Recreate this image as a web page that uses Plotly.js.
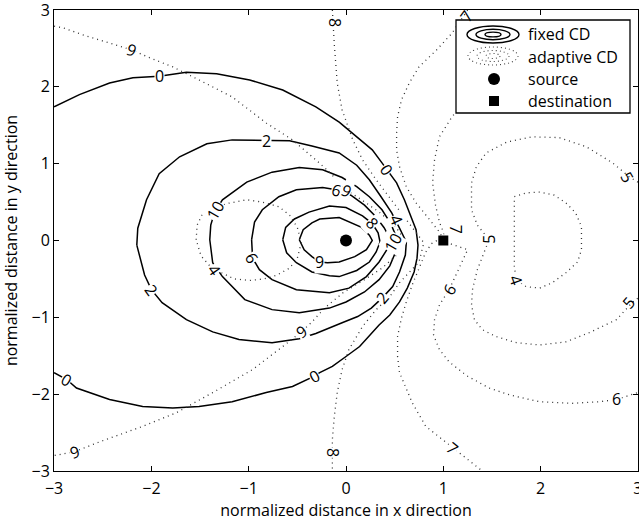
<!DOCTYPE html>
<html><head><meta charset="utf-8">
<script src="https://cdn.plot.ly/plotly-3.0.1.min.js"></script>
<style>html,body{margin:0;padding:0;background:#fff}</style>
</head><body><div id="chart" style="width:639px;height:521px"></div>
<script>
// ---- fixed CD contour lines (solid) ----
const fixed0X = [-3.00,-2.74,-2.43,-2.19,-1.92,-1.64,-1.33,-0.99,-0.65,-0.31,-0.07,0.14,0.27,0.37,0.42,0.52,0.60,0.67,0.72,0.74,0.73,0.70,0.63,0.55,0.45,0.34,0.27,0.14,0.00,-0.14,-0.27,-0.33,-0.55,-0.82,-1.17,-1.51,-1.78,-2.09,-2.43,-2.77,-2.87,-3.00];
const fixed0Y = [1.74,1.90,2.05,2.12,2.14,2.19,2.17,2.09,1.96,1.74,1.54,1.32,1.18,1.01,0.92,0.75,0.53,0.31,0.14,-0.06,-0.23,-0.41,-0.62,-0.80,-0.97,-1.10,-1.20,-1.38,-1.51,-1.64,-1.72,-1.77,-1.90,-1.98,-2.10,-2.16,-2.18,-2.16,-2.07,-1.92,-1.81,-1.72];
const fixed2X = [-2.15,-2.14,-2.05,-1.92,-1.71,-1.43,-1.17,-0.82,-0.58,-0.35,-0.07,0.11,0.24,0.36,0.47,0.55,0.62,0.61,0.55,0.48,0.37,0.26,0.12,-0.04,-0.17,-0.31,-0.48,-0.76,-1.10,-1.37,-1.64,-1.89,-2.00,-2.07,-2.15];
const fixed2Y = [-0.06,0.16,0.53,0.87,1.09,1.26,1.31,1.30,1.30,1.23,1.14,0.98,0.79,0.57,0.36,0.16,-0.02,-0.19,-0.41,-0.60,-0.75,-0.88,-0.99,-1.07,-1.14,-1.21,-1.28,-1.33,-1.29,-1.19,-1.03,-0.81,-0.64,-0.45,-0.06];
const fixed4X = [-1.40,-1.39,-1.35,-1.27,-1.02,-0.76,-0.48,-0.24,-0.04,0.11,0.24,0.37,0.46,0.53,0.51,0.45,0.34,0.19,0.00,-0.17,-0.48,-0.76,-1.04,-1.27,-1.37,-1.40];
const fixed4Y = [0.01,0.20,0.37,0.53,0.76,0.89,0.95,0.92,0.82,0.70,0.57,0.40,0.22,0.01,-0.15,-0.33,-0.51,-0.67,-0.80,-0.88,-0.94,-0.90,-0.77,-0.47,-0.29,0.01];
const fixed6X = [-0.97,-0.94,-0.86,-0.69,-0.51,-0.24,-0.10,0.05,0.19,0.30,0.39,0.46,0.42,0.34,0.21,0.03,-0.17,-0.51,-0.76,-0.89,-0.96,-0.97];
const fixed6Y = [0.01,0.24,0.40,0.57,0.66,0.69,0.66,0.59,0.46,0.32,0.17,0.01,-0.12,-0.28,-0.47,-0.62,-0.68,-0.64,-0.51,-0.38,-0.23,0.01];
const fixed8X = [-0.65,-0.62,-0.53,-0.38,-0.17,0.00,0.17,0.27,0.33,0.35,0.31,0.24,0.11,-0.07,-0.17,-0.35,-0.51,-0.61,-0.65];
const fixed8Y = [0.01,0.17,0.28,0.37,0.45,0.43,0.32,0.22,0.10,-0.02,-0.15,-0.28,-0.39,-0.47,-0.46,-0.41,-0.29,-0.16,0.01];
const fixed9X = [-0.48,-0.44,-0.35,-0.27,-0.07,0.03,0.16,0.24,0.27,0.21,0.09,-0.07,-0.19,-0.27,-0.35,-0.43,-0.48];
const fixed9Y = [0.01,0.14,0.23,0.28,0.30,0.24,0.17,0.07,0.00,-0.12,-0.21,-0.28,-0.29,-0.28,-0.21,-0.12,0.01];

// ---- adaptive CD contour lines (dotted) ----
const adapt10X = [-1.54,-1.53,-1.48,-1.35,-1.23,-1.02,-0.86,-0.69,-0.58,-0.50,-0.46,-0.50,-0.58,-0.71,-0.84,-0.99,-1.15,-1.28,-1.40,-1.49,-1.54];
const adapt10Y = [0.01,0.20,0.33,0.40,0.48,0.53,0.50,0.44,0.33,0.17,-0.03,-0.23,-0.36,-0.45,-0.50,-0.52,-0.50,-0.42,-0.33,-0.20,0.01];
const adapt9X = [-3.00,-2.91,-2.71,-2.43,-2.20,-2.02,-1.78,-1.51,-1.17,-0.82,-0.55,-0.31,-0.17,0.00,0.16,0.34,0.50,0.60,0.52,0.37,0.19,-0.02,-0.22,-0.35,-0.46,-0.65,-0.96,-1.37,-1.74,-2.09,-2.53,-2.79,-3.00];
const adapt9Y = [2.79,2.77,2.68,2.57,2.48,2.38,2.26,2.09,1.87,1.53,1.31,1.05,0.89,0.66,0.53,0.37,0.20,0.01,-0.19,-0.36,-0.51,-0.67,-0.88,-1.06,-1.19,-1.38,-1.68,-1.98,-2.24,-2.42,-2.62,-2.75,-2.80];
const adapt8X = [-0.14,-0.12,-0.09,-0.04,0.07,0.17,0.31,0.45,0.57,0.68,0.80,0.75,0.65,0.55,0.45,0.31,0.17,0.03,-0.04,-0.09,-0.12,-0.14,-0.14];
const adapt8Y = [3.00,2.55,2.05,1.70,1.31,1.05,0.79,0.56,0.36,0.17,-0.03,-0.28,-0.42,-0.55,-0.73,-0.90,-1.12,-1.42,-1.68,-1.98,-2.29,-2.59,-3.00];
const adapt7X = [1.25,1.09,0.93,0.75,0.65,0.57,0.53,0.52,0.52,0.55,0.62,0.72,0.86,0.96,0.99,0.88,0.82,0.75,0.68,0.62,0.57,0.53,0.53,0.55,0.62,0.68,0.82,0.99,1.09,1.24,1.40];
const adapt7Y = [3.00,2.70,2.48,2.26,2.05,1.83,1.61,1.40,1.18,0.96,0.70,0.49,0.27,0.11,0.04,-0.04,-0.15,-0.36,-0.58,-0.80,-1.01,-1.25,-1.51,-1.72,-1.94,-2.11,-2.42,-2.59,-2.70,-2.85,-3.00];
const adapt6X = [2.60,1.99,1.57,1.27,1.09,0.96,0.91,0.89,0.92,0.96,1.02,1.02,1.25,1.16,1.06,0.96,0.91,0.90,0.96,1.06,1.24,1.47,1.68,1.99,2.32,2.60,2.78,3.00];
const adapt6Y = [2.77,2.58,2.29,1.90,1.61,1.35,1.05,0.75,0.46,0.24,0.05,-0.02,-0.12,-0.36,-0.64,-0.84,-1.03,-1.23,-1.42,-1.58,-1.76,-1.92,-2.01,-2.10,-2.12,-2.10,-2.07,-1.98];
const adapt5X = [3.00,2.91,2.74,2.47,2.19,1.91,1.65,1.44,1.34,1.29,1.29,1.35,1.47,1.42,1.35,1.30,1.29,1.32,1.40,1.54,1.75,1.99,2.26,2.50,2.78,2.94,3.00];
const adapt5Y = [0.76,0.83,1.01,1.22,1.34,1.35,1.28,1.14,0.96,0.75,0.40,0.20,0.01,-0.16,-0.38,-0.64,-0.84,-1.03,-1.16,-1.25,-1.33,-1.36,-1.32,-1.20,-1.03,-0.81,-0.75];
const adapt4X = [1.73,1.85,1.99,2.14,2.26,2.36,2.42,2.42,2.38,2.26,2.12,1.99,1.85,1.75,1.73,1.73,1.73,1.73];
const adapt4Y = [0.57,0.62,0.63,0.59,0.49,0.36,0.18,-0.12,-0.28,-0.42,-0.55,-0.62,-0.60,-0.51,-0.34,-0.12,0.27,0.57];

// ---- source / destination ----
const sourceXY = [0, 0];
const destXY = [1, 0];

// ---- contour labels ----
const labelText  = ['9','0','2','10','6','9','0','8','4','10','7','5','5','4','5','6','6','7','8','8','7','0','2','9','6','4','9','2','0','9'];
const labelX     = [-2.20,-1.92,-0.82,-1.35,-0.10,0.01,0.42,0.27,0.52,0.48,1.13,1.47,2.89,1.75,2.90,2.78,1.06,1.09,-0.14,-0.12,1.24,-0.32,0.37,-0.46,-0.97,-1.35,-0.27,-2.00,-2.87,-2.79];
const labelY     = [2.48,2.14,1.30,0.39,0.66,0.65,0.92,0.23,0.27,-0.03,0.14,0.01,0.83,-0.51,-0.81,-2.07,-0.64,-2.70,-2.76,2.84,2.92,-1.77,-0.75,-1.19,-0.23,-0.38,-0.28,-0.64,-1.81,-2.75];
const labelAngle = [20,0,0,-60,15,25,55,50,66,-60,90,-90,60,70,-50,0,-60,40,90,90,-55,-30,-50,-35,60,55,0,55,30,-20];

const tickVals = [-3,-2,-1,0,1,2,3];
const legendNames = ['fixed CD','adaptive CD','source','destination'];

// ---------------------------------------------------------------
const FONT = 'Open Sans, sans-serif';
const FS = 16;
const solidLine = {color:'#000', width:1.5};
const dotLine = {color:'#333', width:1.3, dash:'1px,4px'};

const traces = [];
function addLine(x, y, line){
  traces.push({type:'scatter', mode:'lines', x:x, y:y, line:line, hoverinfo:'skip', showlegend:false});
}
[[fixed0X,fixed0Y],[fixed2X,fixed2Y],[fixed4X,fixed4Y],[fixed6X,fixed6Y],[fixed8X,fixed8Y],[fixed9X,fixed9Y]]
  .forEach(p => addLine(p[0], p[1], solidLine));
[[adapt10X,adapt10Y],[adapt9X,adapt9Y],[adapt8X,adapt8Y],[adapt7X,adapt7Y],[adapt6X,adapt6Y],[adapt5X,adapt5Y],[adapt4X,adapt4Y]]
  .forEach(p => addLine(p[0], p[1], dotLine));
traces.push({type:'scatter', mode:'markers', x:[sourceXY[0]], y:[sourceXY[1]], marker:{symbol:'circle', size:12, color:'#000'}, showlegend:false, hoverinfo:'skip'});
traces.push({type:'scatter', mode:'markers', x:[destXY[0]], y:[destXY[1]], marker:{symbol:'square', size:10, color:'#000'}, showlegend:false, hoverinfo:'skip'});

const annotations = labelText.map((t,i) => {
  const nearEdge = Math.abs(labelY[i]) > 2.8 || labelX[i] > 2.85;
  return {x:labelX[i], y:labelY[i], xref:'x', yref:'y', text:t, textangle:labelAngle[i],
    showarrow:false, font:{family:FONT, size:FS, color:'#000'},
    bgcolor: nearEdge ? 'rgba(0,0,0,0)' : '#fff', borderpad:0};
});

// custom legend (pixel layout helper)
const PL=54, PR=638, PT=10, PB=471;
const px = p => (p-PL)/(PR-PL);
const py = p => (PB-p)/(PB-PT);
const shapes = [];
shapes.push({type:'rect', xref:'paper', yref:'paper', x0:px(456), x1:px(630), y0:py(113), y1:py(20),
  line:{color:'#000', width:1.3}, fillcolor:'#fff', layer:'above'});
function ell(cx, cy, rx, ry, line){
  shapes.push({type:'circle', xref:'paper', yref:'paper', x0:px(cx-rx), x1:px(cx+rx), y0:py(cy+ry), y1:py(cy-ry), line:line, layer:'above'});
}
ell(493,34.5,26,8.5,{color:'#000',width:1.4});
ell(493,34.5,17,5.2,{color:'#000',width:1.4});
ell(493,34.5,8,2.4,{color:'#000',width:1.4});
ell(493,56,25,9,{color:'#444',width:1.1,dash:'1px,3px'});
ell(493,56,16,5.5,{color:'#444',width:1.1,dash:'1px,3px'});
ell(493,56,7,2.5,{color:'#444',width:1.1,dash:'1px,3px'});
shapes.push({type:'circle', xref:'paper', yref:'paper', x0:px(488), x1:px(500), y0:py(85), y1:py(73), fillcolor:'#000', line:{color:'#000',width:0}, layer:'above'});
shapes.push({type:'rect', xref:'paper', yref:'paper', x0:px(489), x1:px(499), y0:py(106), y1:py(96), fillcolor:'#000', line:{color:'#000',width:0}, layer:'above'});
const legY = [34, 57, 79, 101];
legendNames.forEach((n,i) => annotations.push({xref:'paper', yref:'paper', x:px(526), y:py(legY[i]),
  xanchor:'left', yanchor:'middle', text:n, showarrow:false, font:{family:FONT, size:FS, color:'#000'}}));

const axisCommon = {range:[-3.001,3.001], tickvals:tickVals, ticks:'inside', ticklen:5, tickwidth:1, tickcolor:'#000',
  showline:true, linecolor:'#000', linewidth:1, mirror:'ticks', showgrid:false, zeroline:false,
  ticklabeloverflow:'allow', tickfont:{family:FONT, size:FS, color:'#000'}, fixedrange:true};

const layout = {
  width:639, height:521,
  margin:{l:54, r:1, t:10, b:50},
  paper_bgcolor:'#fff', plot_bgcolor:'#fff',
  showlegend:false,
  xaxis: Object.assign({}, axisCommon, {ticklabelstandoff:3, title:{text:'normalized distance in x direction', font:{family:FONT,size:FS,color:'#000'}, standoff:0}}),
  yaxis: Object.assign({}, axisCommon, {title:{text:'normalized distance in y direction', font:{family:FONT,size:FS,color:'#000'}, standoff:13}}),
  shapes: shapes,
  annotations: annotations
};
Plotly.newPlot('chart', traces, layout, {staticPlot:true, displayModeBar:false});
</script></body></html>
